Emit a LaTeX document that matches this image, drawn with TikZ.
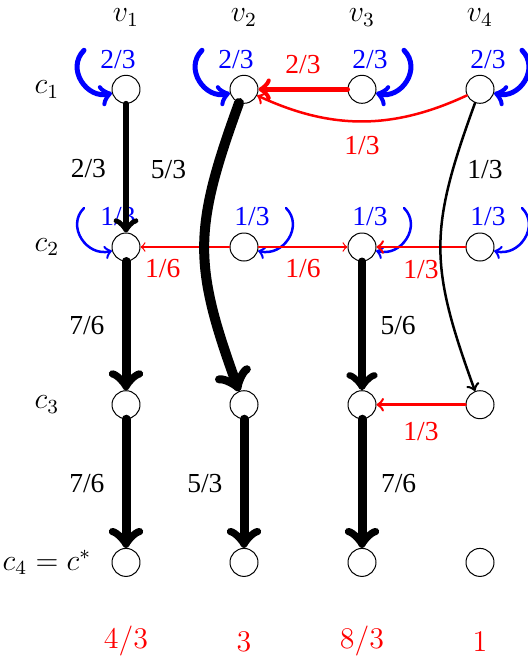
\documentclass[tikz,border=0pt]{standalone}
\usepackage{fontspec}
\newfontfamily\labfont{Liberation Serif}
\usetikzlibrary{positioning}
\begin{document}
\begin{tikzpicture}[x=47.2pt, y=63.08pt, line join=round, line cap=round, >=to,
  vert/.style={circle, draw, fill=white, minimum size=11.2pt, inner sep=0pt},
  mlab/.style={font=\large},
  lab/.style={font=\labfont\fontsize{11}{13}\selectfont}]
\useasboundingbox (-0.0678,-4.5935) rectangle (4.4068,-0.4337);
% grid of vertices
\foreach \i in {1,...,4}
  \foreach \j in {1,...,4}
    \node[vert] (v\i c\j) at (\i,-\j) {};
% column and row labels
\foreach \i in {1,...,4}
  \node[mlab] (top\i) at (\i,-0.545) {$v_\i$};
\foreach \j in {1,2,3}
  \node[mlab] (row\j) at (0.33,-\j) {$c_\j$};
\node[mlab] (row4) at (0.33,-4) {$c_4=c^*$};
\foreach \i/\val in {1/{4/3},2/3,3/{8/3},4/1}
  \node[mlab, red] (val\i) at (\i,-4.501) {$\val$};
% self loops
\foreach \n/\s/\w/\t in {v1c1/-1/2pt/{2/3}, v2c1/-1/2pt/{2/3}, v3c1/1/2pt/{2/3}, v4c1/1/2pt/{2/3},
    v1c2/-1/1pt/{1/3}, v2c2/1/1pt/{1/3}, v3c2/1/1pt/{1/3}, v4c2/1/1pt/{1/3}}{
  \pgfmathtruncatemacro\a{270+\s*45}
  \pgfmathtruncatemacro\b{270+\s*75}
  \draw[->, blue, line width=\w] ([shift={(\s*16.8pt,15.6pt)}]\n.center)
    to[out=\a, in=\b, looseness=1.3] (\n);
  \node[lab, blue] (l\n) at ([shift={(\s*3.2pt,12pt)}]\n.center) {\t};
}
% red moves
\draw[->, red, line width=2pt] (v3c1) -- node[above=2pt, lab] {2/3} (v2c1);
\draw[->, red, line width=1pt] (v4c1) to[out=205, in=-25] node[below=2pt, lab] {1/3} (v2c1);
\draw[->, red, line width=0.5pt] (v2c2) -- node[pos=0.75, below=1.5pt, lab] {1/6} (v1c2);
\draw[->, red, line width=0.5pt] (v2c2) -- node[below=1.5pt, lab] {1/6} (v3c2);
\draw[->, red, line width=1pt] (v4c2) -- node[below=1.5pt, lab] {1/3} (v3c2);
\draw[->, red, line width=1pt] (v4c3) -- node[below=3pt, lab] {1/3} (v3c3);
% black moves
\draw[->, line width=2.4pt] (v1c1) -- node[left=3.5pt, lab] {2/3} (v1c2);
\draw[->, line width=3.6pt] (v1c2) -- node[left=3.5pt, lab] {7/6} (v1c3);
\draw[->, line width=3.6pt] (v1c3) -- node[left=3.5pt, lab] {7/6} (v1c4);
\draw[->, line width=4pt] (v2c1) to[out=250, in=110, looseness=1.2] node[pos=0.2, left=7pt, lab] {5/3} (v2c3);
\draw[->, line width=3.6pt] (v2c3) -- node[left=3.5pt, lab] {5/3} (v2c4);
\draw[->, line width=3.2pt] (v3c2) -- node[right=2.5pt, lab] {5/6} (v3c3);
\draw[->, line width=3.6pt] (v3c3) -- node[right=2.5pt, lab] {7/6} (v3c4);
\draw[->, line width=1pt] (v4c1) to[out=250, in=110, looseness=1.2] node[pos=0.2, right=2pt, lab] {1/3} (v4c3);
\end{tikzpicture}
\end{document}
